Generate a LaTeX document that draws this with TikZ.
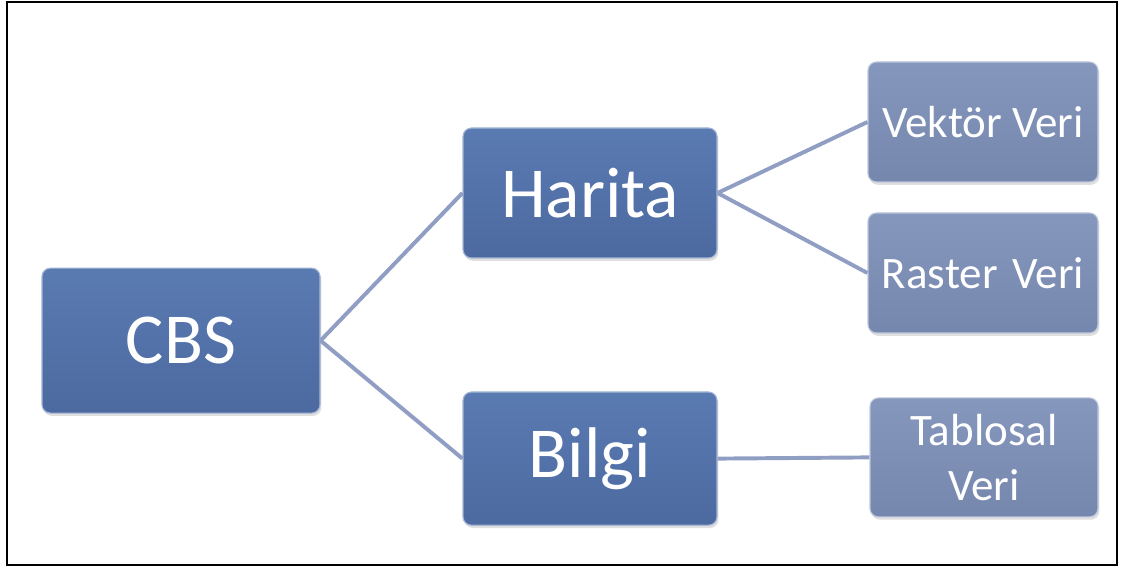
\documentclass[tikz,border=0pt]{standalone}
\usepackage{fontspec}
\setmainfont{Carlito}
\usetikzlibrary{shadows}

\definecolor{anaMavi}{RGB}{76,106,160}
\definecolor{anaMaviAcik}{RGB}{90,122,178}
\definecolor{yaprakMavi}{RGB}{118,135,174}
\definecolor{yaprakMaviAcik}{RGB}{134,151,190}
\definecolor{baglanti}{RGB}{145,158,196}

\tikzset{
    anakutu/.style={rounded corners=6pt, top color=anaMaviAcik, bottom color=anaMavi,
        draw=anaMaviAcik!55!white, line width=0.8pt, text=white,
        font=\fontsize{51}{60}\selectfont, align=center,
        drop shadow={opacity=0.25, shadow xshift=1pt, shadow yshift=-2pt}},
    yaprakkutu/.style={rounded corners=6pt, top color=yaprakMaviAcik, bottom color=yaprakMavi,
        draw=yaprakMaviAcik!55!white, line width=0.8pt, text=white,
        font=\fontsize{32}{39}\selectfont, align=center,
        drop shadow={opacity=0.25, shadow xshift=1pt, shadow yshift=-2pt}},
    cizgi/.style={baglanti, line width=2.8pt}
}

\begin{document}
\begin{tikzpicture}
        \useasboundingbox (0,0) rectangle (28.075,14.225);

        % --- çerçeve ---
        \draw[black, line width=2.1pt] (0.175,0.1) rectangle (27.925,14.175);

        % --- kutular ---
        \node[anakutu, minimum width=6.95cm, minimum height=3.625cm] (cbs) at (4.525,5.71) {CBS};
        \node[anakutu, minimum width=6.35cm, minimum height=3.25cm] (harita) at (14.75,9.4) {Harita};
        \node[anakutu, minimum width=6.35cm, minimum height=3.33cm] (bilgi) at (14.75,2.76) {Bilgi};

        \node[yaprakkutu, minimum width=5.75cm, minimum height=3cm] (vektor) at (24.575,11.175) {Vektör Veri};
        \node[yaprakkutu, minimum width=5.75cm, minimum height=3cm] (raster) at (24.575,7.4) {Raster\hspace{0.1em} Veri};
        \node[yaprakkutu, minimum width=5.7cm, minimum height=2.975cm] (tablo) at (24.6,2.79) {Tablosal\\Veri};

        % --- bağlantılar ---
        \foreach \a/\b in {cbs/harita, cbs/bilgi, harita/vektor, harita/raster, bilgi/tablo} {
            \draw[cizgi] (\a.east) -- (\b.west);
        }

    \end{tikzpicture}
\end{document}
